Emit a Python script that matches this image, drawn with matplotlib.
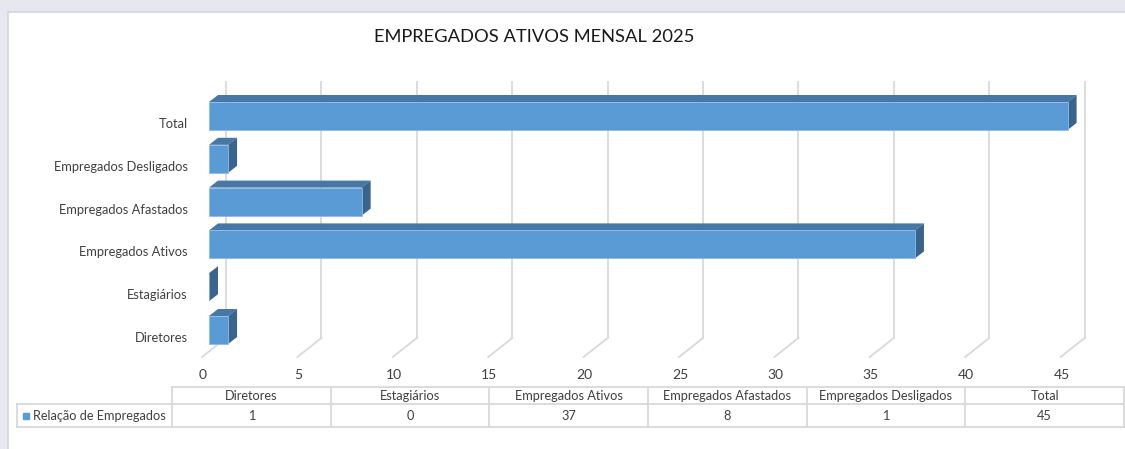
from matplotlib import pyplot as plt
from matplotlib.patches import Polygon, Rectangle
import numpy as np

# dados
categorias = ['Diretores', 'Estagiários', 'Empregados Ativos',
              'Empregados Afastados', 'Empregados Desligados', 'Total']
valores = [1, 0, 37, 8, 1, 45]
serie = 'Relação de Empregados'
ticks_x = [0, 5, 10, 15, 20, 25, 30, 35, 40, 45]
titulo = 'EMPREGADOS ATIVOS MENSAL 2025'

cor_frente = '#5b9bd5'
cor_topo = '#4677a5'
cor_lado = '#3a648c'
cor_grade = '#d9d9d9'
cor_texto = '#404040'
fonte = ['Lato', 'DejaVu Sans']

plt.rcParams['font.family'] = fonte

W, H = 1125, 449
fig = plt.figure(figsize=(W / 100, H / 100), dpi=100)
fig.patch.set_facecolor('#e7e7ef')
fig.patches.append(Rectangle((8 / W, -0.1), 1, 1.1 - 12 / H, transform=fig.transFigure,
                             facecolor='white', edgecolor='#d4d4dc', lw=1.2, zorder=-5))

# escala em pixels -> unidades
px_x = 19.08   # px por unidade de valor
px_y = 42.8    # px por categoria
ax = fig.add_axes([190 / W, (H - 362) / H, 920 / W, 284 / H])
ax.set_xlim((190 - 209) / px_x, (1110 - 209) / px_x)
ax.set_ylim((330 - 362) / px_y, (330 - 78) / px_y)
ax.axis('off')
ax.patch.set_alpha(0)

prof_x = 9 / px_x      # profundidade da barra
prof_y = 7 / px_y
alt = 28 / px_y        # altura da barra
tras_x = 17 / px_x     # plano de fundo
tras_y = (330 - 338) / px_y
frente_x = -7 / px_x
frente_y = (330 - 357) / px_y
topo_grade = (330 - 82) / px_y

# grade vertical no plano de fundo + linhas do piso
for t in ticks_x:
    ax.plot([t + tras_x, t + tras_x], [tras_y, topo_grade], color=cor_grade, lw=1.3, zorder=1)
    ax.plot([t + tras_x, t + frente_x], [tras_y, frente_y], color=cor_grade, lw=1.3, zorder=1)
    ax.text(t - 6 / px_x, (330 - 375) / px_y, str(t), ha='center', va='center',
            fontsize=10, color=cor_texto, clip_on=False)

pos = np.arange(len(categorias))
ax.barh(pos, valores, height=alt, left=0, color=cor_frente, edgecolor='#8fbbe6',
        lw=0.6, zorder=4)
for y, v in zip(pos, valores):
    y0, y1 = y - alt / 2, y + alt / 2
    topo = [(0, y1), (v, y1), (v + prof_x, y1 + prof_y), (prof_x, y1 + prof_y)]
    lado = [(v, y0), (v, y1), (v + prof_x, y1 + prof_y), (v + prof_x, y0 + prof_y)]
    ax.add_patch(Polygon(topo, closed=True, facecolor=cor_topo, edgecolor='none', zorder=3))
    ax.add_patch(Polygon(lado, closed=True, facecolor=cor_lado, edgecolor='none', zorder=3))

for y, c in zip(pos, categorias):
    ax.text(-21 / px_x, y - 8 / px_y, c, ha='right', va='center',
            fontsize=9.3, color=cor_texto, clip_on=False)

fig.text(534 / W, 1 - 37 / H, titulo, ha='center', va='center', fontsize=13.2, color='#1a1a1a')

# tabela de dados
tax = fig.add_axes([17 / W, (H - 427) / H, (1124 - 17) / W, 40 / H])
lab_w = 155 / 158.7
h_cab = 17.3 / 22.7
tax.set_xlim(-lab_w, len(categorias))
tax.set_ylim(0, 1 + h_cab)
tax.axis('off')
n = len(categorias)
kw = dict(color=cor_grade, lw=1.3, clip_on=False)
tax.plot([0, n], [1 + h_cab, 1 + h_cab], **kw)
tax.plot([-lab_w, n], [1, 1], **kw)
tax.plot([-lab_w, n], [0, 0], **kw)
tax.plot([-lab_w, -lab_w], [0, 1], **kw)
for j in range(n + 1):
    tax.plot([j, j], [0, 1 + h_cab], **kw)
for j, (c, v) in enumerate(zip(categorias, valores)):
    tax.text(j + 0.5, 1 + h_cab / 2, c, ha='center', va='center', fontsize=9.2, color=cor_texto)
    tax.text(j + 0.5, 0.5, str(v), ha='center', va='center', fontsize=9.2, color=cor_texto)
tax.plot([-lab_w + 9 / 158.7], [0.5], marker='s', ms=5, color=cor_frente, clip_on=False)
tax.text(-lab_w + 16 / 158.7, 0.5, serie, ha='left', va='center', fontsize=9.2, color=cor_texto)

fig.savefig('out.png', dpi=100, facecolor=fig.get_facecolor())
